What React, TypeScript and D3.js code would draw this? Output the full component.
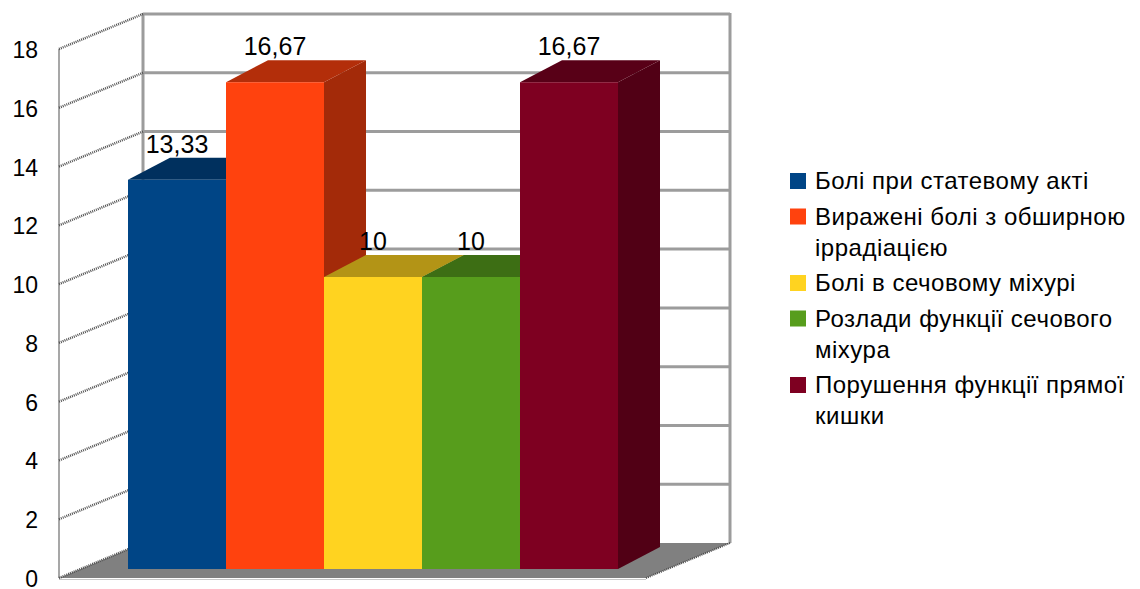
import React from "react";
import * as d3 from "d3";

// Series (one category, five series)
const seriesNames: string[] = [
  "Болі при статевому акті",
  "Виражені болі з обширною іррадіацією",
  "Болі в сечовому міхурі",
  "Розлади функції сечового міхура",
  "Порушення функції прямої кишки",
];
const seriesValues: number[] = [13.33, 16.67, 10, 10, 16.67];
const seriesLabels: string[] = ["13,33", "16,67", "10", "10", "16,67"];
const seriesColors: string[] = ["#004586", "#ff420e", "#ffd320", "#579d1c", "#7e0021"];
// Legend entries, wrapped into lines
const legendLines: string[][] = [
  ["Болі при статевому акті"],
  ["Виражені болі з обширною", "іррадіацією"],
  ["Болі в сечовому міхурі"],
  ["Розлади функції сечового", "міхура"],
  ["Порушення функції прямої", "кишки"],
];
const yTicks: number[] = [0, 2, 4, 6, 8, 10, 12, 14, 16, 18];

const W = 1140;
const H = 589;
const FONT = "'Liberation Sans', Arial, sans-serif";

// 3D box geometry
const wallX0 = 59; // front-left corner of the floor/left wall
const wallX1 = 646; // front-right corner of the floor
const depthDx = 84;
const depthDy = -35;
const barDepthDx = 42;
const barDepthDy = -22;

function shade(c: string, k: number): string {
  const r = d3.rgb(c);
  return d3.rgb(r.r * k, r.g * k, r.b * k).formatHex();
}

function pts(p: [number, number][]): string {
  return p.map((q) => q.join(",")).join(" ");
}

export default function App() {
  // Front plane of the walls
  const yFront = d3.scaleLinear().domain([0, 18]).range([578, 49]);
  const yBack = (v: number) => yFront(v) + depthDy;
  // Front plane of the bars
  const yBar = d3.scaleLinear().domain([0, 18]).range([569, 43.4]);
  const xBar = d3.scaleBand<number>().domain(d3.range(seriesNames.length)).range([128, 618]).padding(0);

  const backL = wallX0 + depthDx;
  const backR = wallX1 + depthDx;

  // legend layout
  const lineH = 31;
  const itemGap = 35.5;
  let cursor = 189;
  const legendItems = legendLines.map((lines, i) => {
    const y0 = cursor;
    cursor += (lines.length - 1) * lineH + itemGap;
    return { lines, y0, color: seriesColors[i] };
  });

  return (
    <svg width={W} height={H} style={{ position: "absolute", left: 0, top: 0, background: "#fff" }} fontFamily={FONT}>
      {/* back wall */}
      <rect x={backL} y={yBack(18)} width={backR - backL} height={yBack(0) - yBack(18)} fill="#fff" />
      {yTicks.filter((t) => t > 0).map((t) => (
        <line key={"bg" + t} x1={backL} x2={backR} y1={yBack(t)} y2={yBack(t)} stroke="#9c9c9c" strokeWidth={3} />
      ))}
      <line x1={backL} x2={backL} y1={yBack(18) - 1} y2={yBack(0)} stroke="#9c9c9c" strokeWidth={3} />
      <line x1={backR} x2={backR} y1={yBack(18) - 1} y2={yBack(0)} stroke="#9c9c9c" strokeWidth={3} />

      {/* floor */}
      <polygon
        points={pts([
          [wallX0, yFront(0)],
          [wallX1, yFront(0)],
          [backR, yBack(0)],
          [backL, yBack(0)],
        ])}
        fill="#808080"
      />
      <line x1={wallX0} x2={wallX1} y1={yFront(0) + 1.5} y2={yFront(0) + 1.5} stroke="#c8c8c8" strokeWidth={1} />
      <line
        x1={wallX1}
        y1={yFront(0)}
        x2={backR}
        y2={yBack(0)}
        stroke="#4a4a4a"
        strokeWidth={2}
        strokeDasharray="1 1"
      />

      {/* left wall */}
      <line x1={wallX0} x2={wallX0} y1={yFront(18)} y2={yFront(0)} stroke="#8a8a8a" strokeWidth={1.5} />
      {yTicks.map((t) => (
        <line
          key={"lg" + t}
          x1={wallX0}
          y1={yFront(t)}
          x2={backL}
          y2={yBack(t)}
          stroke="#505050"
          strokeWidth={2.5}
          strokeDasharray="1 1"
        />
      ))}

      {/* y tick labels */}
      {yTicks.map((t) => (
        <text key={"yt" + t} x={38} y={yFront(t) + 1} textAnchor="end" dominantBaseline="central" fontSize={23} fill="#000">
          {t}
        </text>
      ))}

      {/* bars, left to right: right face, top face, front face */}
      {seriesValues.map((v, i) => {
        const x0 = xBar(i)!;
        const x1 = x0 + xBar.bandwidth();
        const yt = yBar(v);
        const yb = yBar(0);
        const c = seriesColors[i];
        return (
          <g key={"bar" + i}>
            <polygon
              points={pts([
                [x1, yt],
                [x1 + barDepthDx, yt + barDepthDy],
                [x1 + barDepthDx, yb + barDepthDy],
                [x1, yb],
              ])}
              fill={shade(c, 0.64)}
            />
            <polygon
              points={pts([
                [x0, yt],
                [x1, yt],
                [x1 + barDepthDx, yt + barDepthDy],
                [x0 + barDepthDx, yt + barDepthDy],
              ])}
              fill={shade(c, 0.7)}
            />
            <rect x={x0} y={yt} width={x1 - x0} height={yb - yt} fill={c} />
          </g>
        );
      })}

      {/* value labels */}
      {seriesValues.map((v, i) => (
        <text
          key={"lbl" + i}
          x={xBar(i)! + xBar.bandwidth() / 2}
          y={yBar(v) + barDepthDy - 5}
          textAnchor="middle"
          fontSize={25}
          fill="#000"
        >
          {seriesLabels[i]}
        </text>
      ))}

      {/* legend */}
      {legendItems.map((it, i) => (
        <g key={"lg-item" + i}>
          <rect x={790} y={it.y0 - 16} width={16} height={16} fill={it.color} />
          {it.lines.map((ln, j) => (
            <text key={j} x={815} y={it.y0 + j * lineH} fontSize={24} letterSpacing={0.5} fill="#000">
              {ln}
            </text>
          ))}
        </g>
      ))}
    </svg>
  );
}
